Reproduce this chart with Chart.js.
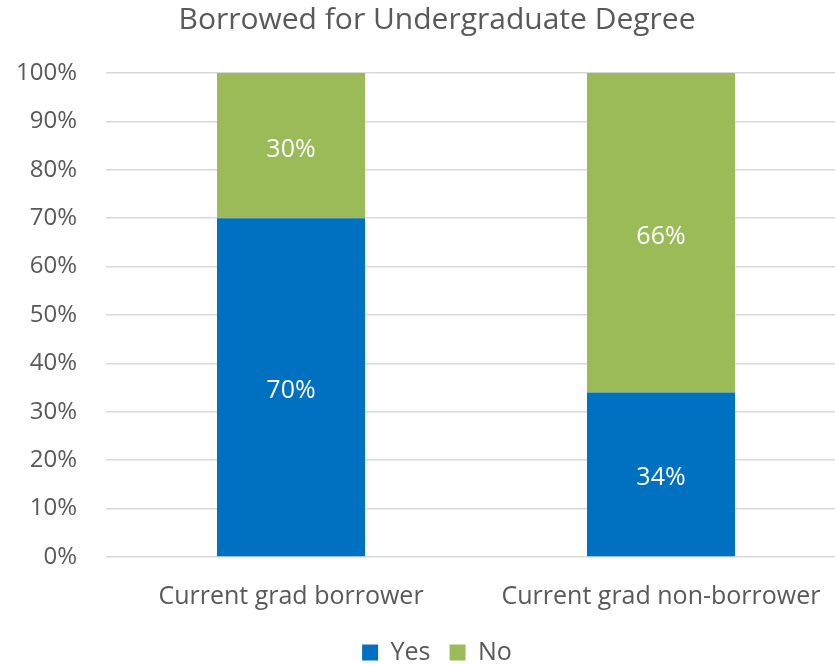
<!DOCTYPE html>
<html>
<head>
<meta charset="utf-8">
<script src="https://cdn.jsdelivr.net/npm/chart.js@4/dist/chart.umd.min.js"></script>
<style>
  html, body { margin: 0; padding: 0; background: #fff; overflow: hidden; }
  #wrap { width: 835px; height: 665px; overflow: hidden; position: relative; }
  #box { width: 874px; height: 665px; position: absolute; left: 0; top: 0; }
</style>
</head>
<body>
<div id="wrap"><div id="box"><canvas id="c"></canvas></div></div>
<script>
const categories = ['Current grad borrower', 'Current grad non-borrower'];
const yesValues = [70, 34];
const noValues = [30, 66];
const seriesNames = ['Yes', 'No'];
const titleText = 'Borrowed for Undergraduate Degree';

const FONT = "'Open Sans', 'Liberation Sans', sans-serif";
const TEXT = '#595959';

// Writes each segment's value in the middle of its bar
const barLabels = {
  id: 'barLabels',
  afterDatasetsDraw(chart) {
    const ctx = chart.ctx;
    ctx.save();
    ctx.font = '25px ' + FONT;
    ctx.fillStyle = '#ffffff';
    ctx.textAlign = 'center';
    ctx.textBaseline = 'middle';
    chart.data.datasets.forEach((ds, i) => {
      chart.getDatasetMeta(i).data.forEach((bar, j) => {
        const p = bar.getProps(['x', 'y', 'base'], true);
        ctx.fillText(ds.data[j] + '%', p.x, (p.y + p.base) / 2 + 4);
      });
    });
    ctx.restore();
  }
};

new Chart(document.getElementById('c'), {
  type: 'bar',
  data: {
    labels: categories,
    datasets: [
      { label: seriesNames[0], data: yesValues, backgroundColor: '#0070C0' },
      { label: seriesNames[1], data: noValues, backgroundColor: '#9BBB59' }
    ]
  },
  options: {
    responsive: true,
    maintainAspectRatio: false,
    animation: false,
    categoryPercentage: 0.4,
    barPercentage: 1,
    layout: { padding: { left: 28, right: 28, top: 2, bottom: -10 } },
    plugins: {
      title: {
        display: true,
        text: titleText,
        color: TEXT,
        font: { family: FONT, size: 30, weight: 'normal' },
        padding: { top: 0, bottom: 35 }
      },
      legend: {
        position: 'bottom',
        labels: {
          color: TEXT,
          font: { family: FONT, size: 25 },
          boxWidth: 16,
          boxHeight: 16,
          padding: 19
        }
      },
      tooltip: { enabled: false }
    },
    scales: {
      x: {
        stacked: true,
        afterFit(scale) { scale.height = 64; },
        grid: { display: false },
        border: { display: false },
        ticks: { color: TEXT, font: { family: FONT, size: 25 }, padding: 17, maxRotation: 0 }
      },
      y: {
        stacked: true,
        min: 0,
        max: 100,
        afterFit(scale) {
          scale.width = 78;
          // let the tick labels run into the left margin instead of being clipped
          scale._computeLabelArea = () => undefined;
        },
        grid: { color: '#d9d9d9', lineWidth: 1.5, drawTicks: false },
        border: { display: false },
        ticks: {
          stepSize: 10,
          color: TEXT,
          font: { family: FONT, size: 24 },
          padding: 29,
          callback: v => v + '%'
        }
      }
    }
  },
  plugins: [barLabels]
});
</script>
</body>
</html>
